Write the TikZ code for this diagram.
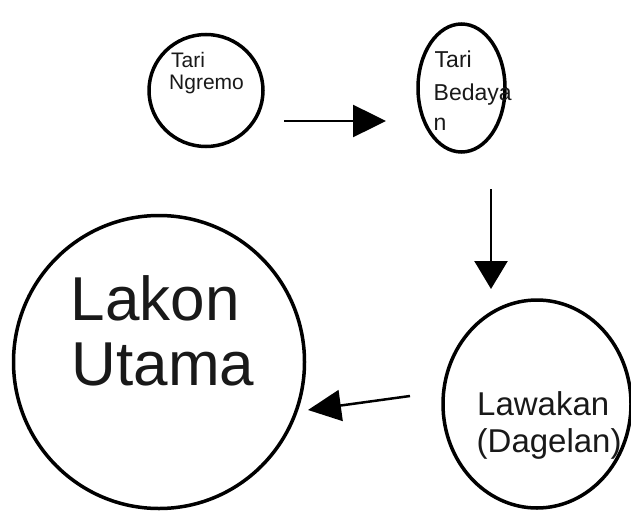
\documentclass[tikz,border=0pt]{standalone}
\usepackage{fontspec}
\setmainfont{Liberation Sans}
\usetikzlibrary{arrows.meta,shapes.geometric}
\begin{document}
\begin{tikzpicture}[x=1pt,y=-1pt,
  ring/.style={draw=black,ellipse,line width=3.5pt,inner sep=0pt,outer sep=0pt},
  lbl/.style={anchor=base west,inner sep=0pt,text=black!90},
  flow/.style={draw=black,line width=2.5pt}]
\useasboundingbox[fill=white] (0,0) rectangle (631,516);
% circles
\node[ring,minimum width=114pt,minimum height=112pt] (ngremo) at (206,90.5) {};
\node[ring,minimum width=87pt,minimum height=128pt] (bedaya) at (461.5,88) {};
\node[ring,minimum width=291pt,minimum height=293pt] (lakon) at (159,362) {};
\node[ring,minimum width=188pt,minimum height=208pt] (lawakan) at (537,404) {};
% texts
\node[lbl,font=\fontsize{21}{23}\selectfont] (ngremoA) at (171,68) {Tari};
\node[lbl,font=\fontsize{21}{23}\selectfont] (ngremoB) at (169,90) {Ngremo};
\node[lbl,font=\fontsize{23}{27}\selectfont] (bedayaA) at (434.5,68) {Tari};
\node[lbl,font=\fontsize{23}{27}\selectfont] (bedayaB) at (433.5,100) {Bedaya};
\node[lbl,font=\fontsize{23}{27}\selectfont] (bedayaC) at (433.5,131) {n};
\node[lbl,font=\fontsize{33}{37}\selectfont] (lawakanA) at (477,415) {Lawakan};
\node[lbl,font=\fontsize{33}{37}\selectfont] (lawakanB) at (476.5,452) {(Dagelan)};
\node[lbl,font=\fontsize{62}{66}\selectfont] (lakonA) at (70.5,320) {Lakon};
\node[lbl,font=\fontsize{62}{66}\selectfont] (lakonB) at (71.5,385) {Utama};
% connector ends
\coordinate (a1s) at (284,121);
\coordinate (a1e) at (386,121);
\coordinate (a2s) at (491,189);
\coordinate (a2e) at (491,289);
\coordinate (a3s) at (410,396);
\coordinate (a3e) at (308,410);
\draw[flow,-{Triangle[length=33pt,width=32pt]}] (a1s) -- (a1e);
\draw[flow,-{Triangle[length=28pt,width=33pt]}] (a2s) -- (a2e);
\draw[flow,-{Triangle[length=33pt,width=31pt]}] (a3s) -- (a3e);
\end{tikzpicture}
\end{document}
